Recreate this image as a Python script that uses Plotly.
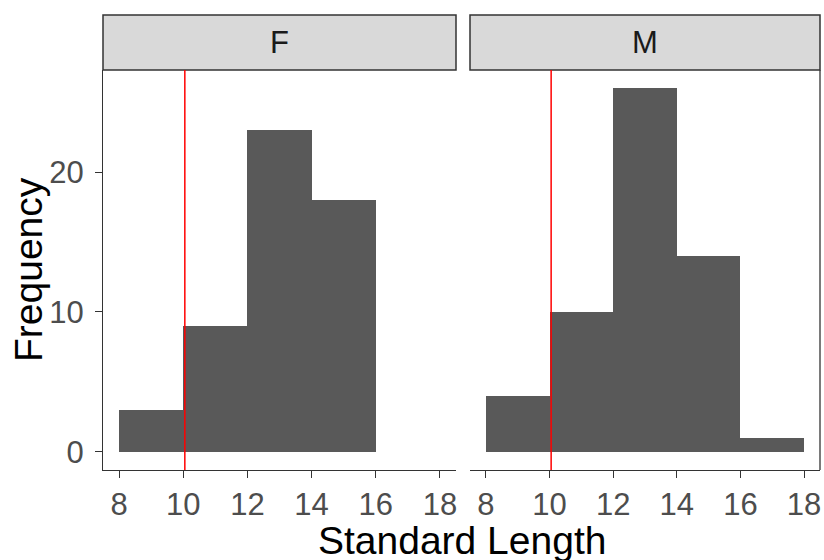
import plotly.graph_objects as go

# Histogram counts per sex, bins of width 2 from 8 to 18
bin_left = [8, 10, 12, 14, 16]
bin_width = 2
counts_f = [3, 9, 23, 18, 0]
counts_m = [4, 10, 26, 14, 1]
panels = ["F", "M"]
ref_length = 10.05  # reference standard length marked in red

x_ticks = [8, 10, 12, 14, 16, 18]
y_ticks = [0, 10, 20]

W, H = 824, 560
FONT = "Liberation Sans, Arial, sans-serif"
BAR = "#595959"
AXIS = "#333333"
TICKTXT = "#4D4D4D"

# panel geometry (paper fractions)
dom_f = [103 / W, 456 / W]
dom_m = [470 / W, 820 / W]
dom_y = [(H - 470) / H, (H - 70) / H]
strip_top = (H - 15) / H

centers = [b + bin_width / 2 for b in bin_left]

fig = go.Figure()
fig.add_trace(go.Bar(x=centers, y=counts_f, width=bin_width, marker=dict(color=BAR, line=dict(width=0)),
                     xaxis="x", yaxis="y", showlegend=False))
fig.add_trace(go.Bar(x=centers, y=counts_m, width=bin_width, marker=dict(color=BAR, line=dict(width=0)),
                     xaxis="x2", yaxis="y2", showlegend=False))

xcommon = dict(range=[7.5, 18.5], tickvals=x_ticks, ticks="outside", ticklen=7, tickwidth=1.3,
               tickcolor=AXIS, showline=True, linecolor=AXIS, linewidth=1.3, showgrid=False,
               zeroline=False, tickfont=dict(family=FONT, size=31, color=TICKTXT),
               fixedrange=True)
fig.update_layout(
    width=W, height=H, margin=dict(l=0, r=0, t=0, b=0),
    paper_bgcolor="white", plot_bgcolor="white", bargap=0,
    xaxis=dict(domain=dom_f, anchor="y", **xcommon),
    xaxis2=dict(domain=dom_m, anchor="y2", **xcommon),
    yaxis=dict(domain=dom_y, anchor="x", range=[-1.3, 27.3], tickvals=y_ticks, ticks="outside",
               ticklen=7, tickwidth=1.3, tickcolor=AXIS, showline=True, linecolor=AXIS, linewidth=1.3,
               showgrid=False, zeroline=False, ticklabelstandoff=5,
               tickfont=dict(family=FONT, size=31, color=TICKTXT)),
    yaxis2=dict(domain=dom_y, anchor="x2", matches="y", showticklabels=False, ticks="",
                showline=False, showgrid=False, zeroline=False),
)

shapes = []
# facet strips
for dom, name in zip([dom_f, dom_m], panels):
    shapes.append(dict(type="rect", xref="paper", yref="paper", x0=dom[0], x1=dom[1],
                       y0=dom_y[1], y1=strip_top, fillcolor="#D9D9D9",
                       line=dict(color=AXIS, width=1.5), layer="above"))
    fig.add_annotation(x=(dom[0] + dom[1]) / 2, y=(dom_y[1] + strip_top) / 2, xref="paper", yref="paper",
                       text=name, showarrow=False, font=dict(family=FONT, size=31, color="#1A1A1A"),
                       xanchor="center", yanchor="middle")
# right edge of the second panel
shapes.append(dict(type="line", xref="paper", yref="paper", x0=dom_m[1], x1=dom_m[1],
                   y0=dom_y[0], y1=dom_y[1], line=dict(color=AXIS, width=1.3)))
# reference line in each panel
for xr, yr in [("x", "y domain"), ("x2", "y2 domain")]:
    shapes.append(dict(type="line", xref=xr, yref=yr, x0=ref_length, x1=ref_length, y0=0, y1=1,
                       line=dict(color="red", width=1.5)))
fig.update_layout(shapes=shapes)

# axis titles
fig.add_annotation(x=(dom_f[0] + dom_m[1]) / 2, y=(H - 517) / H, xref="paper", yref="paper",
                   text="Standard Length", showarrow=False, xanchor="center", yanchor="top",
                   font=dict(family=FONT, size=39, color="black"))
fig.add_annotation(x=28 / W, y=(dom_y[0] + dom_y[1]) / 2, xref="paper", yref="paper",
                   text="Frequency", textangle=-90, showarrow=False, xanchor="center", yanchor="middle",
                   font=dict(family=FONT, size=39, color="black"))

fig.write_html("out.html")
